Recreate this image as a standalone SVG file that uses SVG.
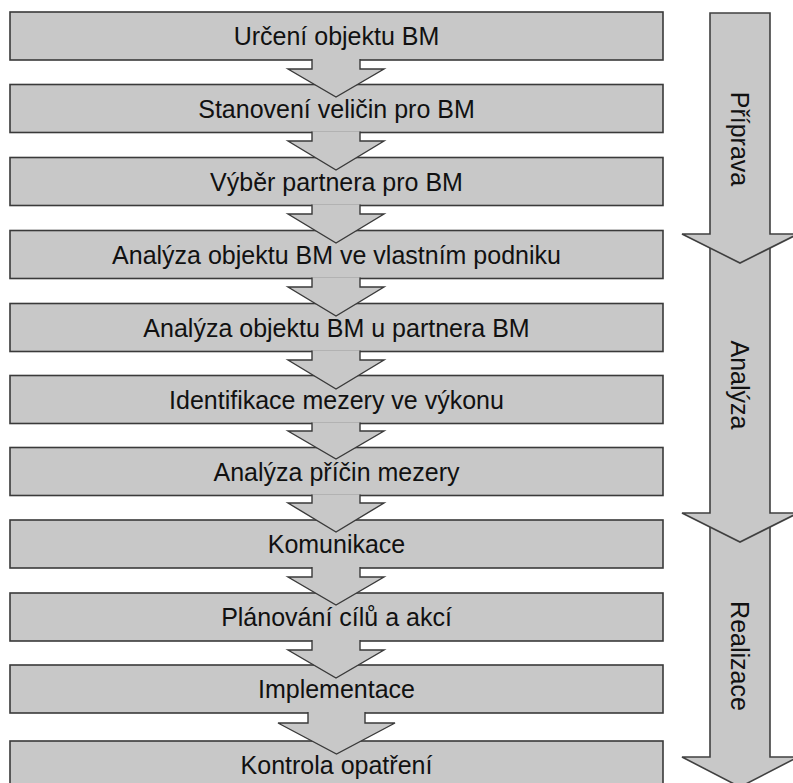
<svg xmlns="http://www.w3.org/2000/svg" width="793" height="783" viewBox="0 0 793 783">
  <style>
    .box { fill: #c8c8c8; stroke: #3a3a3a; stroke-width: 1.6; }
    .flow { fill: #c8c8c8; stroke: #3a3a3a; stroke-width: 1.4; stroke-linejoin: miter; }
    .phase { fill: #c8c8c8; stroke: #404040; stroke-width: 1.6; stroke-linejoin: miter; }
    .lbl { font-family: "Liberation Sans", Arial, sans-serif; font-size: 25px; fill: #111; text-anchor: middle; }
  </style>
  <rect width="793" height="783" fill="#ffffff"/>

  <!-- process steps -->
  <g id="step1"><rect class="box" x="10" y="12" width="653" height="48"/></g>
  <g id="step2"><rect class="box" x="10" y="84.5" width="653" height="48"/></g>
  <g id="step3"><rect class="box" x="10" y="157.5" width="653" height="48"/></g>
  <g id="step4"><rect class="box" x="10" y="230.5" width="653" height="48"/></g>
  <g id="step5"><rect class="box" x="10" y="303.5" width="653" height="48"/></g>
  <g id="step6"><rect class="box" x="10" y="375.5" width="653" height="48"/></g>
  <g id="step7"><rect class="box" x="10" y="447.5" width="653" height="48"/></g>
  <g id="step8"><rect class="box" x="10" y="520" width="653" height="48"/></g>
  <g id="step9"><rect class="box" x="10" y="593" width="653" height="48"/></g>
  <g id="step10"><rect class="box" x="10" y="665" width="653" height="48"/></g>
  <g id="step11"><rect class="box" x="10" y="741" width="653" height="60"/></g>

  <!-- block arrows between consecutive steps; the stem is open at the top so it merges into the step above -->
  <g id="connectors">
    <path class="flow" d="M312,59 V69 H288 L336,97 L384,69 H360 V59"/>
    <path class="flow" d="M312,131.5 V141 H288 L336,170 L384,141 H360 V131.5"/>
    <path class="flow" d="M312,204.5 V214 H288 L336,243 L384,214 H360 V204.5"/>
    <path class="flow" d="M312,277.5 V287 H288 L336,316 L384,287 H360 V277.5"/>
    <path class="flow" d="M312,350.5 V360 H288 L336,389 L384,360 H360 V350.5"/>
    <path class="flow" d="M312,422.5 V431 H288 L336,459 L384,431 H360 V422.5"/>
    <path class="flow" d="M312,494.5 V503 H288 L336,532 L384,503 H360 V494.5"/>
    <path class="flow" d="M312,567 V577 H288 L336,605 L384,577 H360 V567"/>
    <path class="flow" d="M312,640 V650 H288 L336,678 L384,650 H360 V640"/>
    <path class="flow" d="M308,712 V723 H278 L336.5,754 L395,723 H365 V712"/>
  </g>

  <!-- step labels -->
  <g id="labels">
    <text class="lbl" x="336.5" y="45">Určení objektu BM</text>
    <text class="lbl" x="336.5" y="117.5">Stanovení veličin pro BM</text>
    <text class="lbl" x="336.5" y="190.5">Výběr partnera pro BM</text>
    <text class="lbl" x="336.5" y="263.5">Analýza objektu BM ve vlastním podniku</text>
    <text class="lbl" x="336.5" y="336.5">Analýza objektu BM u partnera BM</text>
    <text class="lbl" x="336.5" y="408.5">Identifikace mezery ve výkonu</text>
    <text class="lbl" x="336.5" y="480.5">Analýza příčin mezery</text>
    <text class="lbl" x="336.5" y="553">Komunikace</text>
    <text class="lbl" x="336.5" y="626">Plánování cílů a akcí</text>
    <text class="lbl" x="336.5" y="698">Implementace</text>
    <text class="lbl" x="336.5" y="774">Kontrola opatření</text>
  </g>

  <!-- phase arrows, later phases drawn first so earlier heads overlap them -->
  <g id="phase-realizace">
    <polygon class="phase" points="710,513 770,513 770,757 798,757 740,787 682,757 710,757"/>
    <text class="lbl" transform="translate(731,656) rotate(90)">Realizace</text>
  </g>
  <g id="phase-analyza">
    <polygon class="phase" points="710,234 770,234 770,513 798,513 740,542 682,513 710,513"/>
    <text class="lbl" transform="translate(731,385) rotate(90)">Analýza</text>
  </g>
  <g id="phase-priprava">
    <polygon class="phase" points="710,13 770,13 770,234 798,234 740,263 682,234 710,234"/>
    <text class="lbl" transform="translate(731,139) rotate(90)">Příprava</text>
  </g>
</svg>
